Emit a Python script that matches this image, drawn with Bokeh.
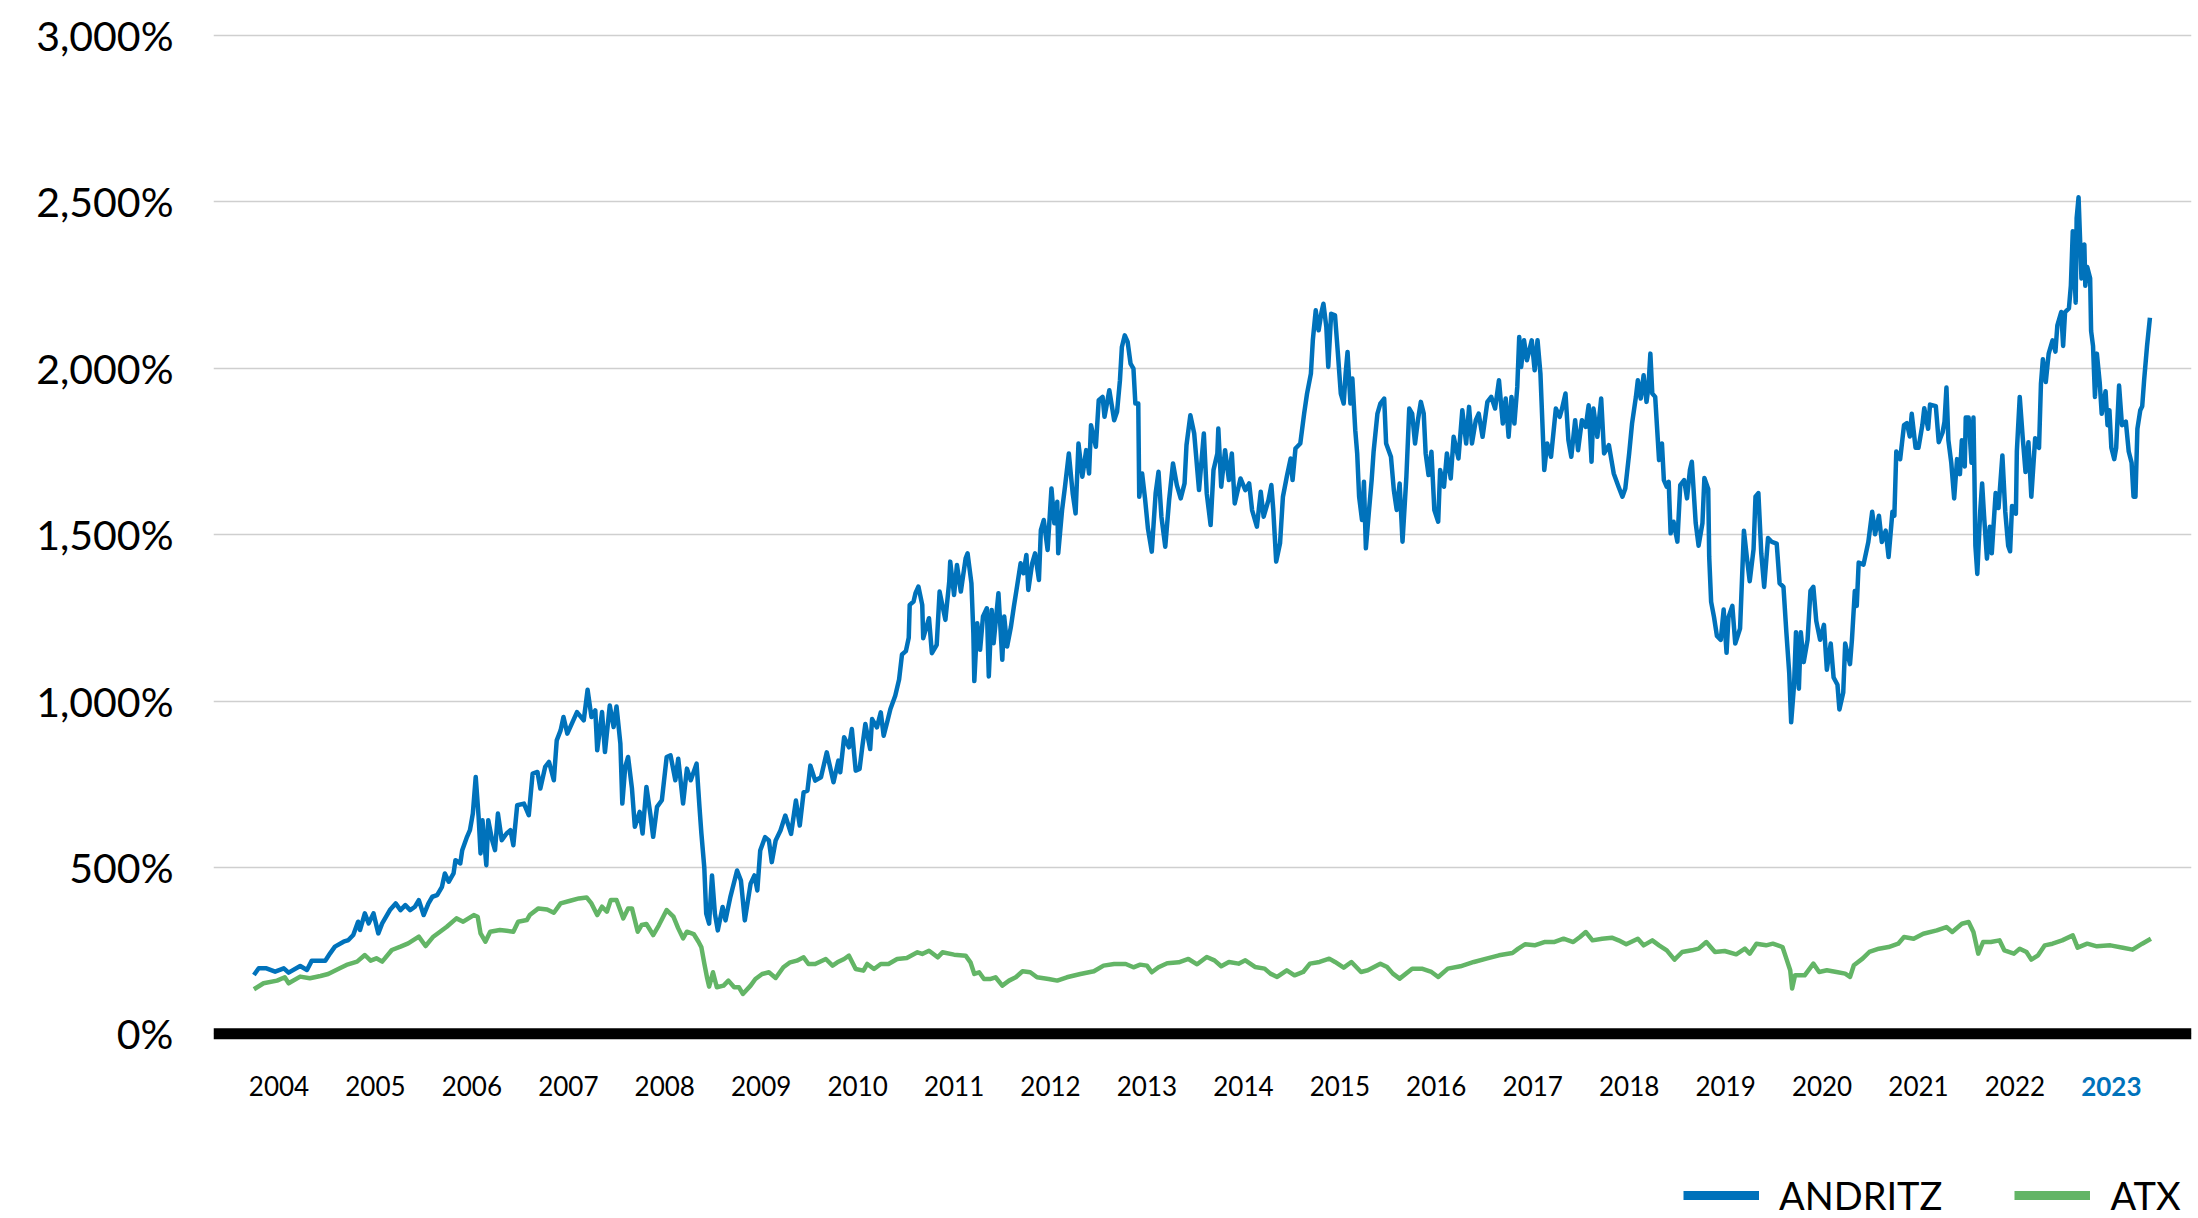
import math
from bokeh.plotting import figure
from bokeh.models import FixedTicker, Span, Legend, LegendItem, ColumnDataSource, Range1d
from bokeh.core.properties import value
from bokeh.embed import file_html
from bokeh.resources import INLINE

# ---------------- data ----------------
andritz_x = [
    2004.24, 2004.29, 2004.37, 2004.46, 2004.55, 2004.60, 2004.72, 2004.79, 2004.84, 2004.98,
    2005.03, 2005.08, 2005.17, 2005.22, 2005.27, 2005.32, 2005.34, 2005.39, 2005.43, 2005.48,
    2005.53, 2005.57, 2005.65, 2005.71, 2005.76, 2005.81, 2005.86, 2005.91, 2005.95, 2006.00,
    2006.05, 2006.09, 2006.14, 2006.19, 2006.22, 2006.26, 2006.31, 2006.33, 2006.38, 2006.40,
    2006.45, 2006.48, 2006.51, 2006.54, 2006.57, 2006.59, 2006.61, 2006.65, 2006.67, 2006.71,
    2006.74, 2006.77, 2006.81, 2006.86, 2006.90, 2006.93, 2006.97, 2007.04, 2007.09, 2007.13,
    2007.18, 2007.21, 2007.26, 2007.30, 2007.35, 2007.38, 2007.42, 2007.45, 2007.49, 2007.59,
    2007.66, 2007.70, 2007.74, 2007.78, 2007.80, 2007.85, 2007.88, 2007.93, 2007.97, 2008.00,
    2008.04, 2008.06, 2008.09, 2008.12, 2008.16, 2008.19, 2008.24, 2008.27, 2008.31, 2008.35,
    2008.38, 2008.42, 2008.47, 2008.52, 2008.56, 2008.61, 2008.64, 2008.69, 2008.73, 2008.77,
    2008.83, 2008.86, 2008.88, 2008.91, 2008.93, 2008.96, 2008.99,
    2009.02, 2009.05, 2009.10, 2009.13, 2009.18, 2009.25, 2009.29, 2009.33, 2009.39, 2009.43,
    2009.46, 2009.49, 2009.54, 2009.58, 2009.61, 2009.65, 2009.70, 2009.75, 2009.81, 2009.86,
    2009.90, 2009.94, 2009.98, 2010.01, 2010.06, 2010.12, 2010.18, 2010.25, 2010.30, 2010.32,
    2010.36, 2010.41, 2010.44, 2010.48, 2010.52, 2010.55, 2010.58, 2010.63, 2010.65, 2010.70,
    2010.74, 2010.77, 2010.81, 2010.84, 2010.89,
    2010.93, 2010.96, 2011.00, 2011.03, 2011.04, 2011.08, 2011.10, 2011.13, 2011.17, 2011.18,
    2011.24, 2011.27, 2011.32, 2011.35, 2011.41, 2011.45, 2011.46, 2011.50, 2011.53, 2011.57,
    2011.62, 2011.64, 2011.68, 2011.70, 2011.71, 2011.74, 2011.77, 2011.80, 2011.84, 2011.86,
    2011.89, 2011.91, 2011.96, 2012.00, 2012.02, 2012.05, 2012.09, 2012.12, 2012.15, 2012.19,
    2012.22, 2012.25, 2012.27, 2012.31, 2012.34, 2012.38, 2012.40, 2012.43, 2012.47, 2012.51,
    2012.54, 2012.57, 2012.58, 2012.62, 2012.65, 2012.69, 2012.73, 2012.76, 2012.79, 2012.83,
    2012.87, 2012.90, 2012.92, 2012.97, 2013.00, 2013.04, 2013.06, 2013.11, 2013.16, 2013.19,
    2013.22, 2013.24, 2013.27, 2013.30, 2013.33, 2013.36, 2013.38, 2013.41, 2013.42, 2013.45,
    2013.48, 2013.51, 2013.55, 2013.59, 2013.62, 2013.65, 2013.69, 2013.73, 2013.77, 2013.81,
    2013.85, 2013.89, 2013.91, 2013.95, 2013.99,
    2014.04, 2014.09, 2014.12, 2014.16, 2014.19, 2014.23, 2014.24, 2014.27, 2014.31, 2014.35,
    2014.38, 2014.41, 2014.47, 2014.52, 2014.56, 2014.59, 2014.64, 2014.68, 2014.71, 2014.76,
    2014.79, 2014.81, 2014.84, 2014.88, 2014.91, 2014.95, 2014.99, 2015.01, 2015.04, 2015.09,
    2015.13, 2015.16, 2015.20, 2015.22, 2015.25, 2015.28, 2015.31, 2015.33, 2015.36, 2015.38,
    2015.41, 2015.45, 2015.48, 2015.51, 2015.54, 2015.56, 2015.58, 2015.61, 2015.63, 2015.66,
    2015.68, 2015.70, 2015.73, 2015.75, 2015.77, 2015.80, 2015.83, 2015.85, 2015.89, 2015.92,
    2015.96, 2015.98, 2016.03, 2016.06, 2016.09, 2016.12, 2016.15, 2016.19, 2016.22, 2016.25,
    2016.28, 2016.31, 2016.34, 2016.37, 2016.39, 2016.42, 2016.45, 2016.48, 2016.52, 2016.54,
    2016.58, 2016.61, 2016.65, 2016.68, 2016.73, 2016.77, 2016.81, 2016.84, 2016.87, 2016.91,
    2016.94, 2016.98, 2017.03, 2017.07, 2017.11, 2017.15, 2017.19, 2017.22, 2017.25, 2017.28,
    2017.31, 2017.34, 2017.36, 2017.38, 2017.41, 2017.44, 2017.49, 2017.52, 2017.55, 2017.58,
    2017.62, 2017.65, 2017.69, 2017.74, 2017.78, 2017.80, 2017.84, 2017.87, 2017.90, 2017.94,
    2017.97, 2018.01, 2018.05, 2018.08, 2018.11, 2018.13, 2018.17, 2018.21, 2018.24, 2018.29,
    2018.34, 2018.39, 2018.43, 2018.46, 2018.50, 2018.53, 2018.57, 2018.59, 2018.62, 2018.65,
    2018.68, 2018.70, 2018.72, 2018.74, 2018.77, 2018.79, 2018.81, 2018.84, 2018.86, 2018.89,
    2018.91, 2018.93, 2018.96, 2019.00, 2019.03, 2019.07, 2019.10, 2019.13, 2019.15,
    2019.19, 2019.22, 2019.26, 2019.28, 2019.32, 2019.33, 2019.35, 2019.38, 2019.41, 2019.45,
    2019.48, 2019.51, 2019.53, 2019.57, 2019.60, 2019.65, 2019.69, 2019.72, 2019.75, 2019.79,
    2019.81, 2019.84, 2019.87, 2019.90, 2019.94, 2019.98, 2020.03, 2020.06, 2020.10, 2020.13,
    2020.16, 2020.18, 2020.21, 2020.23, 2020.26, 2020.28, 2020.31, 2020.35, 2020.38, 2020.41,
    2020.44, 2020.48, 2020.52, 2020.55, 2020.59, 2020.62, 2020.66, 2020.68, 2020.72, 2020.74,
    2020.79, 2020.81, 2020.84, 2020.86, 2020.88, 2020.93, 2020.98, 2021.02, 2021.05, 2021.09,
    2021.12, 2021.16, 2021.19, 2021.23, 2021.25, 2021.27, 2021.31, 2021.35, 2021.38, 2021.41,
    2021.43, 2021.47, 2021.50, 2021.54, 2021.56, 2021.60, 2021.62, 2021.68, 2021.71, 2021.75,
    2021.77, 2021.79, 2021.81, 2021.84, 2021.87, 2021.90, 2021.93, 2021.95, 2021.98, 2021.99,
    2022.02, 2022.05, 2022.07, 2022.08, 2022.09, 2022.11, 2022.14, 2022.16, 2022.18, 2022.21,
    2022.24, 2022.26, 2022.30, 2022.33, 2022.37, 2022.40, 2022.43, 2022.45, 2022.47, 2022.51,
    2022.52, 2022.55, 2022.58, 2022.61, 2022.64, 2022.67, 2022.71, 2022.75, 2022.77, 2022.79,
    2022.82, 2022.85, 2022.89, 2022.92, 2022.94, 2022.98, 2023.00, 2023.02, 2023.06, 2023.08,
    2023.10, 2023.13, 2023.14, 2023.16, 2023.19, 2023.22, 2023.23, 2023.25, 2023.28, 2023.29,
    2023.31, 2023.33, 2023.35, 2023.38, 2023.40, 2023.44, 2023.46, 2023.48, 2023.50, 2023.53,
    2023.55, 2023.58, 2023.61, 2023.65, 2023.68, 2023.71, 2023.73, 2023.75, 2023.77, 2023.80,
    2023.82, 2023.84, 2023.87, 2023.90,
]
andritz_y = [
    177, 197, 197, 187, 197, 184, 204, 192, 220, 220,
    242, 262, 277, 282, 297, 337, 312, 362, 332, 362,
    302, 332, 372, 392, 372, 387, 372, 382, 402, 357,
    392, 412, 417, 442, 482, 457, 482, 522, 512, 552,
    592, 612, 662, 772, 652, 542, 642, 507, 642, 582,
    552, 662, 582, 602, 612, 567, 687, 692, 657, 782,
    787, 737, 802, 817, 762, 882, 912, 952, 902, 967,
    942, 1034, 952, 972, 852, 967, 847, 987, 922, 984,
    872, 692, 802, 832, 737, 622, 667, 602, 742, 662,
    592, 682, 702, 832, 837, 762, 827, 692, 797, 762,
    812, 682, 602, 500, 361, 331, 476,
    361, 311, 381, 341, 411, 491, 461, 341, 451, 476,
    431, 551, 591, 581, 516, 581, 611, 656, 601, 701,
    626, 726, 731, 806, 761, 771, 846, 756, 821, 786,
    891, 861, 916, 791, 796, 866, 931, 856, 946, 921,
    966, 896, 941, 976, 1016,
    1065, 1140, 1150, 1190, 1289, 1299, 1324, 1344, 1289, 1189,
    1249, 1144, 1169, 1329, 1244, 1359, 1419, 1319, 1409, 1329,
    1429, 1444, 1354, 1204, 1060, 1234, 1154, 1254, 1279, 1074,
    1274, 1174, 1324, 1124, 1254, 1164, 1224, 1284, 1339, 1414,
    1384, 1439, 1334, 1414, 1444, 1364, 1514, 1544, 1454, 1639,
    1534, 1599, 1444, 1574, 1644, 1744, 1624, 1564, 1774, 1674,
    1754, 1684, 1829, 1764, 1904, 1914, 1854, 1934, 1844, 1869,
    1964, 2064, 2099, 2079, 2014, 1999, 1894, 1894, 1614, 1684,
    1609, 1519, 1449, 1624, 1689, 1554, 1464, 1604, 1714, 1649,
    1609, 1654, 1769, 1859, 1804,
    1634, 1804, 1624, 1529, 1694, 1744, 1819, 1644, 1754, 1664,
    1744, 1594, 1669, 1634, 1654, 1574, 1524, 1629, 1554, 1604,
    1649, 1574, 1419, 1474, 1614, 1674, 1729, 1664, 1759, 1774,
    1864, 1924, 1984, 2084, 2174, 2114, 2169, 2194, 2124, 2004,
    2164, 2159, 2044, 1924, 1894, 1984, 2049, 1894, 1969, 1814,
    1744, 1614, 1544, 1659, 1459, 1564, 1664, 1749, 1864, 1894,
    1909, 1774, 1734, 1634, 1574, 1654, 1479, 1674, 1879, 1864,
    1774, 1844, 1899, 1864, 1744, 1679, 1749, 1574, 1539, 1694,
    1644, 1744, 1669, 1794, 1729, 1874, 1774, 1884, 1774, 1844,
    1864, 1794, 1899, 1914, 1879, 1964, 1834, 1909, 1794, 1914,
    1834, 1944, 2094, 2004, 2084, 2024, 2084, 1994, 2084, 1984,
    1694, 1774, 1734, 1879, 1854, 1874, 1924, 1784, 1734, 1844,
    1754, 1844, 1824, 1889, 1719, 1879, 1794, 1909, 1744, 1769,
    1684, 1644, 1614, 1639, 1744, 1834, 1914, 1964, 1909, 1979,
    1899, 1944, 2044, 1924, 1914, 1819, 1724, 1774, 1664, 1644,
    1659, 1504, 1539, 1479, 1649, 1664, 1609, 1694, 1719,
    1535, 1467, 1535, 1670, 1637, 1433, 1298, 1252, 1196, 1184,
    1275, 1145, 1252, 1286, 1173, 1218, 1512, 1433, 1360, 1456,
    1614, 1625, 1444, 1343, 1490, 1478, 1473, 1354, 1343, 1207,
    1083, 936, 1049, 1207, 1037, 1207, 1117, 1184, 1331, 1343,
    1241, 1184, 1229, 1094, 1173, 1071, 1049, 975, 1026, 1173,
    1111, 1184, 1331, 1286, 1416, 1410, 1478, 1569, 1501, 1557,
    1478, 1512, 1433, 1569, 1557, 1750, 1727, 1829, 1835, 1795,
    1863, 1761, 1761, 1829, 1880, 1818, 1891, 1886, 1778, 1807,
    1840, 1942, 1784, 1716, 1609, 1727, 1682, 1784, 1705, 1852,
    1852, 1716, 1852, 1682, 1467, 1382, 1569, 1654, 1557, 1428,
    1524, 1444, 1625, 1580, 1738, 1569, 1467, 1450, 1586, 1563,
    1750, 1914, 1795, 1688, 1778, 1614, 1790, 1761, 1954, 2027,
    1959, 2044, 2084, 2050, 2129, 2169, 2067, 2169, 2180, 2248,
    2412, 2197, 2451, 2514, 2270, 2372, 2248, 2304, 2270, 2112,
    2067, 1914, 2044, 1954, 1863, 1931, 1829, 1874, 1761, 1727,
    1761, 1948, 1829, 1840, 1750, 1716, 1614, 1614, 1818, 1874,
    1886, 1965, 2067, 2152,
]

atx_x = [
    2004.24, 2004.34, 2004.48, 2004.56, 2004.60, 2004.72, 2004.82, 2004.93, 2005.01, 2005.13,
    2005.20, 2005.31, 2005.39, 2005.45, 2005.51, 2005.57, 2005.67, 2005.76, 2005.84, 2005.95,
    2006.02, 2006.10, 2006.24, 2006.34, 2006.41, 2006.52, 2006.56, 2006.59, 2006.64, 2006.69,
    2006.79, 2006.86, 2006.93, 2006.98, 2007.07, 2007.10, 2007.19, 2007.28, 2007.35, 2007.42,
    2007.52, 2007.61, 2007.69, 2007.74, 2007.80, 2007.85, 2007.90, 2007.94, 2008.00, 2008.07,
    2008.12, 2008.16, 2008.22, 2008.26, 2008.31, 2008.38, 2008.44, 2008.52, 2008.59, 2008.64,
    2008.69, 2008.73, 2008.80, 2008.85, 2008.88, 2008.91, 2008.94, 2008.96,
    2009.00, 2009.04, 2009.11, 2009.16, 2009.22, 2009.27, 2009.31, 2009.39, 2009.44, 2009.51,
    2009.58, 2009.65, 2009.73, 2009.80, 2009.87, 2009.94, 2009.99, 2010.06, 2010.17, 2010.24,
    2010.29, 2010.36, 2010.41, 2010.48, 2010.56, 2010.60, 2010.67, 2010.74, 2010.82, 2010.91,
    2011.01, 2011.12, 2011.17, 2011.24, 2011.33, 2011.38, 2011.50, 2011.62, 2011.67, 2011.71,
    2011.76, 2011.81, 2011.88, 2011.93, 2012.00, 2012.07, 2012.14, 2012.21, 2012.29, 2012.36,
    2012.48, 2012.57, 2012.67, 2012.81, 2012.95, 2013.05, 2013.16, 2013.28, 2013.36, 2013.43,
    2013.50, 2013.55, 2013.62, 2013.71, 2013.83, 2013.93,
    2014.02, 2014.12, 2014.20, 2014.27, 2014.35, 2014.45, 2014.52, 2014.62, 2014.72, 2014.78,
    2014.85, 2014.95, 2015.03, 2015.12, 2015.19, 2015.29, 2015.39, 2015.45, 2015.54, 2015.62,
    2015.72, 2015.79, 2015.92, 2015.99, 2016.05, 2016.12, 2016.25, 2016.35, 2016.45, 2016.52,
    2016.62, 2016.75, 2016.89, 2017.02, 2017.15, 2017.29, 2017.35, 2017.42, 2017.52, 2017.62,
    2017.72, 2017.82, 2017.92, 2017.99, 2018.05, 2018.12, 2018.22, 2018.32, 2018.39, 2018.47,
    2018.59, 2018.65, 2018.74, 2018.81, 2018.89, 2018.97, 2019.05, 2019.15, 2019.22, 2019.30,
    2019.39, 2019.49, 2019.61, 2019.70, 2019.75, 2019.82, 2019.92, 2019.99, 2020.09, 2020.13,
    2020.17, 2020.19, 2020.22, 2020.32, 2020.41, 2020.47, 2020.55, 2020.65, 2020.74, 2020.79,
    2020.83, 2020.92, 2020.99, 2021.09, 2021.19, 2021.29, 2021.35, 2021.45, 2021.55, 2021.69,
    2021.79, 2021.85, 2021.95, 2022.02, 2022.07, 2022.12, 2022.17, 2022.25, 2022.34, 2022.39,
    2022.49, 2022.55, 2022.62, 2022.67, 2022.74, 2022.81, 2022.89, 2022.99, 2023.10, 2023.15,
    2023.25, 2023.35, 2023.49, 2023.62, 2023.72, 2023.82, 2023.91,
]
atx_y = [
    134, 152, 160, 170, 152, 172, 167, 174, 180, 197,
    207, 217, 237, 220, 227, 217, 252, 262, 272, 292,
    264, 292, 322, 347, 337, 357, 352, 302, 277, 307,
    312, 310, 307, 337, 342, 357, 377, 374, 364, 392,
    400, 407, 410, 392, 357, 382, 367, 402, 402, 347,
    377, 377, 307, 327, 330, 297, 327, 372, 352, 317,
    287, 307, 300, 277, 260, 212, 167, 142,
    185, 140, 145, 160, 140, 140, 120, 145, 165, 180,
    185, 168, 200, 215, 220, 230, 210, 210, 225, 205,
    215, 225, 235, 195, 190, 210, 195, 210, 210, 225,
    228, 245, 240, 250, 230, 245, 238, 235, 215, 180,
    185, 165, 165, 170, 145, 160, 170, 188, 185, 170,
    165, 160, 170, 180, 188, 205, 210, 210, 200, 208,
    205, 185, 200, 212, 215, 225,
    209, 231, 221, 203, 216, 211, 221, 201, 196, 181,
    171, 191, 176, 186, 211, 216, 226, 216, 199, 216,
    186, 191, 211, 201, 181, 166, 196, 196, 186, 171,
    196, 203, 216, 226, 236, 243, 256, 269, 266, 276,
    276, 286, 276, 291, 306, 281, 286, 289, 281, 269,
    286, 266, 281, 266, 251, 223, 246, 251, 256, 276,
    246, 249, 239, 256, 241, 271, 266, 271, 261, 226,
    191, 136, 176, 176, 211, 186, 191, 186, 181, 171,
    206, 226, 246, 256, 261, 271, 291, 286, 301, 311,
    321, 306, 331, 336, 306, 241, 276, 276, 281, 251,
    241, 256, 246, 223, 236, 266, 271, 281, 296, 259,
    271, 263, 266, 259, 253, 271, 286,
]

years = list(range(2004, 2024))
highlight_year = 2023
y_ticks = [0, 500, 1000, 1500, 2000, 2500, 3000]
series_names = ["ANDRITZ", "ATX"]

# ---------------- styling ----------------
BLUE = "#0072BB"
GREEN = "#63B566"
FONT = "Lato"
YEAR_LABEL_Y = -158          # baseline of year labels (data units, below the 0 line)

p = figure(
    width=2198, height=1218,
    output_backend="svg", toolbar_location=None,
    x_range=Range1d(2003.821, 2024.331), y_range=Range1d(-554.8, 3051),
    x_axis_location=None,
    min_border_left=213, min_border_right=7, min_border_top=18, min_border_bottom=0,
)
p.outline_line_color = None
p.background_fill_color = "white"
p.border_fill_color = "white"
p.xgrid.visible = False
p.ygrid.ticker = FixedTicker(ticks=y_ticks)
p.ygrid.grid_line_color = "#cfcfcf"
p.ygrid.grid_line_width = 1.3

yax = p.yaxis[0]
yax.ticker = FixedTicker(ticks=y_ticks)
yax.major_label_overrides = {t: f"{t:,}%" for t in y_ticks}
yax.axis_line_color = None
yax.major_tick_line_color = None
yax.minor_tick_line_color = None
yax.major_tick_out = 0
yax.major_tick_in = 0
yax.major_label_standoff = 40
yax.major_label_text_font = FONT
yax.major_label_text_font_size = "41px"
yax.major_label_text_color = "black"

# series
r_atx = p.line(atx_x, atx_y, line_width=4.5, line_color=GREEN, line_join="round")
r_and = p.line(andritz_x, andritz_y, line_width=4.5, line_color=BLUE, line_join="round")

# thick zero line
p.add_layout(Span(location=0, dimension="width", line_color="black", line_width=11))

# year labels (2023 highlighted)
lab_src = ColumnDataSource(dict(
    x=[yr + 0.5 for yr in years],
    y=[YEAR_LABEL_Y] * len(years),
    text=[str(yr) for yr in years],
    color=[BLUE if yr == highlight_year else "black" for yr in years],
    style=["bold" if yr == highlight_year else "normal" for yr in years],
))
p.text(x="x", y="y", text="text", source=lab_src, text_color="color",
       text_font_style="style", text_font=value(FONT), text_font_size="26px",
       text_align="center", text_baseline="alphabetic")

# legend (thick swatches; the swatch renderers hold a single NaN point, so draw nothing in the plot)
nan_src = ColumnDataSource(dict(x=[math.nan], y=[math.nan]))
leg_and = p.line(x="x", y="y", source=nan_src, line_width=9, line_color=BLUE)
leg_atx = p.line(x="x", y="y", source=nan_src, line_width=9, line_color=GREEN)
legend = Legend(
    items=[LegendItem(label=series_names[0], renderers=[leg_and]),
           LegendItem(label=series_names[1], renderers=[leg_atx])],
    orientation="horizontal", location=(1470, 0),
    glyph_width=76, glyph_height=40, label_standoff=20, spacing=72,
    padding=0, margin=0, border_line_color=None, background_fill_alpha=0,
    label_text_font=FONT, label_text_font_size="38px", label_text_color="black",
)
p.add_layout(legend)

open("out.html", "w").write(file_html(p, INLINE))
